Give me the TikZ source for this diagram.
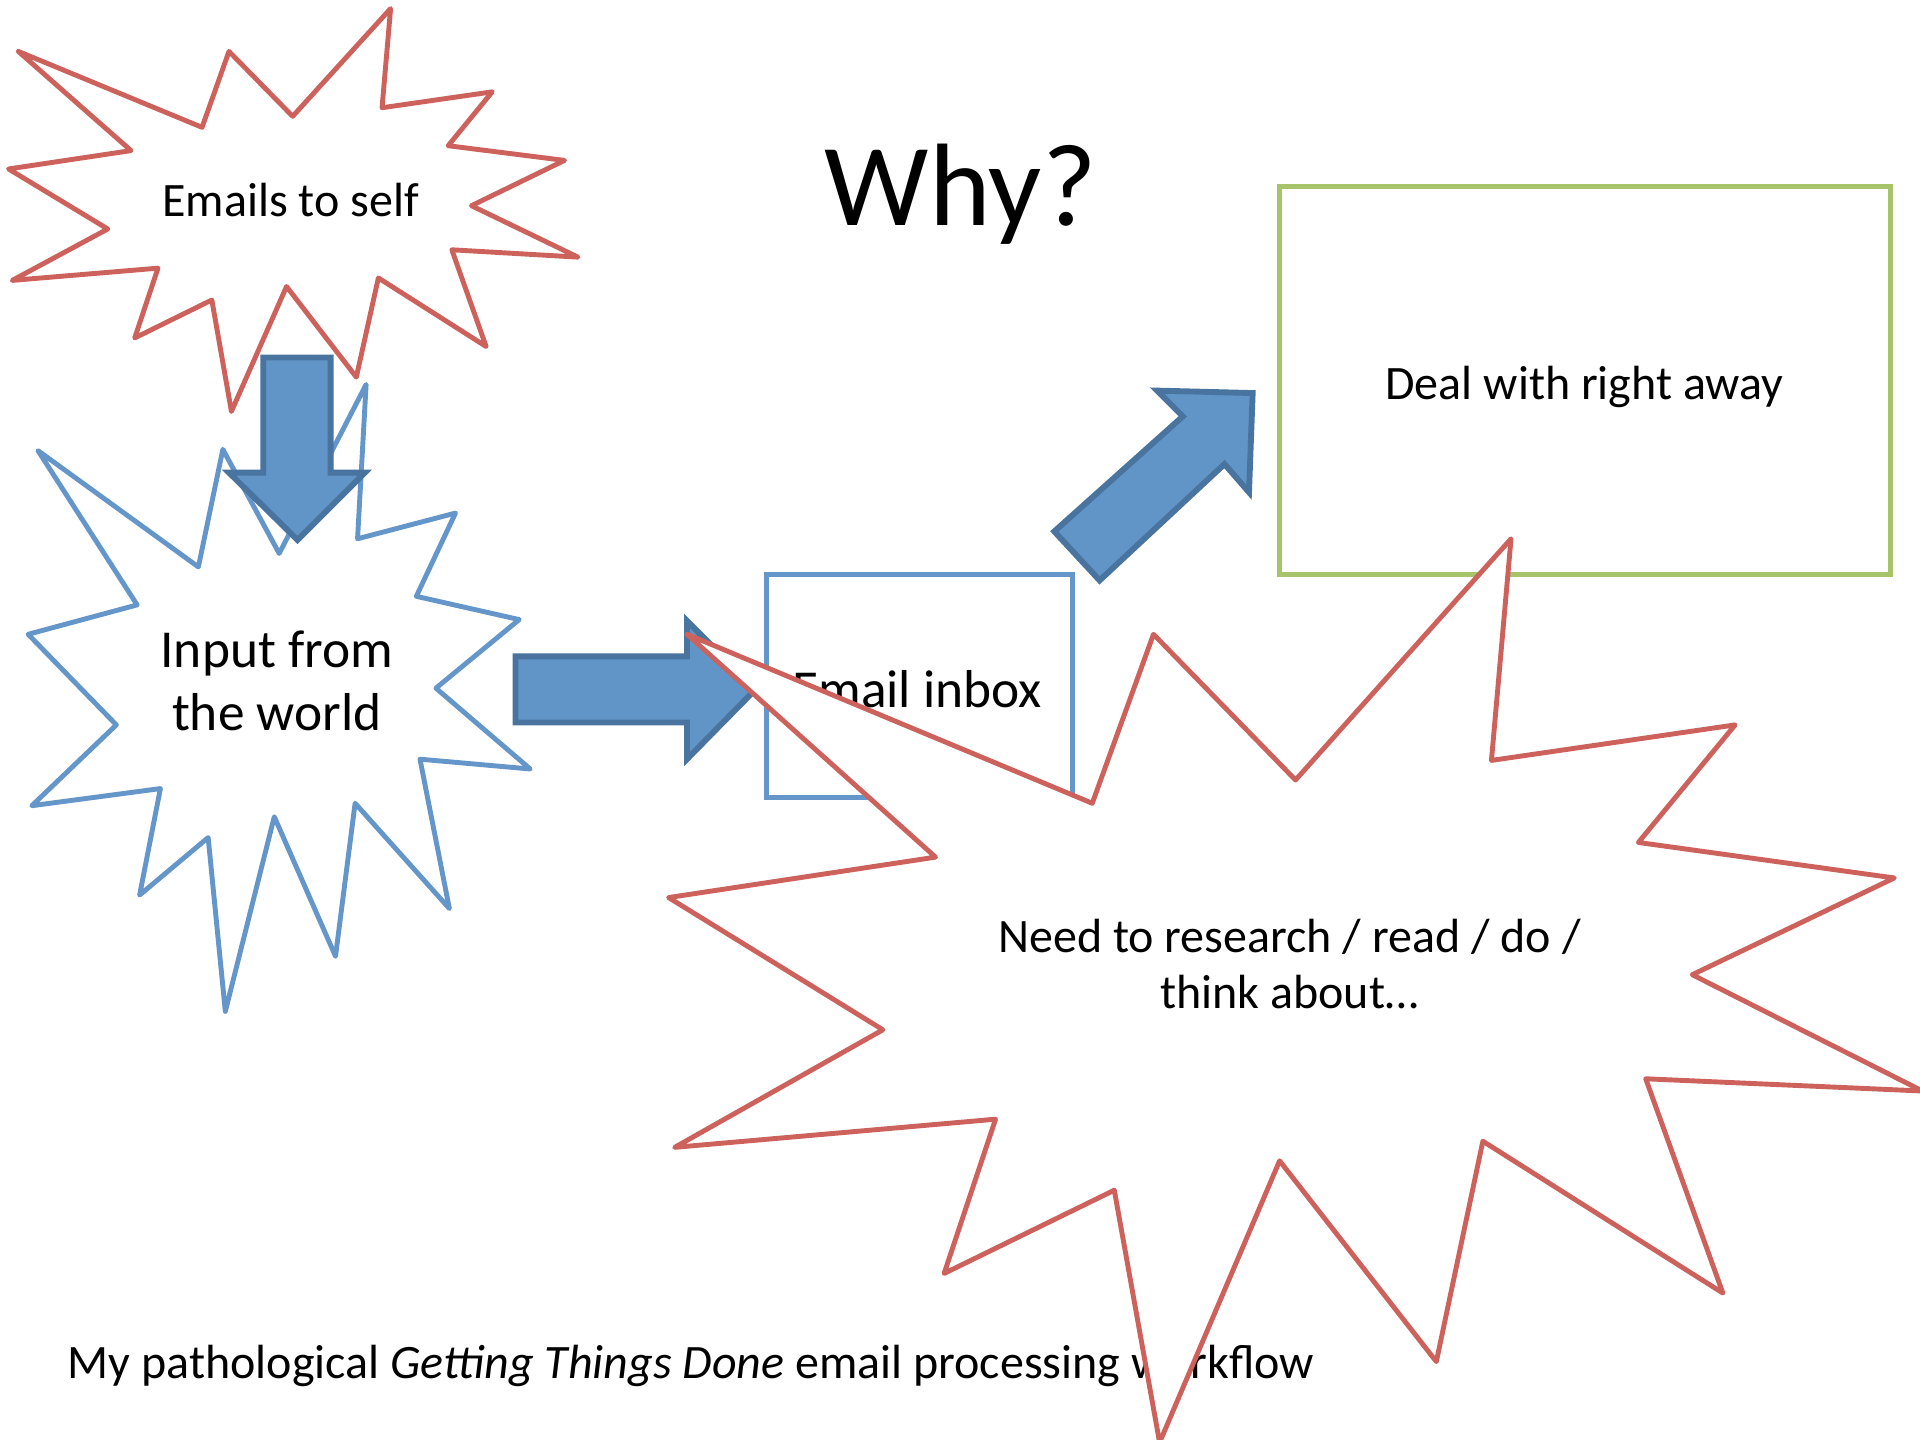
\documentclass[tikz,border=0pt]{standalone}
\usepackage{fontspec}
\setmainfont{Carlito}

\definecolor{burstred}{HTML}{CD625D}
\definecolor{burstblue}{HTML}{6496CA}
\definecolor{boxgreen}{HTML}{A7C46A}
\definecolor{arrowfill}{HTML}{6195C8}
\definecolor{arrowedge}{HTML}{48749F}

\begin{document}
\begin{tikzpicture}[x=0.5pt, y=-0.5pt,
  redburst/.style={draw=burstred, fill=white, line width=2pt, line join=round},
  blueburst/.style={draw=burstblue, fill=white, line width=2pt, line join=round},
  blockarrow/.style={draw=arrowedge, fill=arrowfill, line width=2.4pt, line join=miter},
  inboxbox/.style={draw=burstblue, fill=white, line width=2pt, minimum width=125pt, minimum height=91pt, inner sep=0pt},
  dealbox/.style={draw=boxgreen, fill=white, line width=2pt, minimum width=249.5pt, minimum height=158.5pt, inner sep=0pt},
  label/.style={inner sep=0pt, text=black, align=center}
]
\useasboundingbox (0,0) rectangle (1568,1176);
\clip (0,0) rectangle (1568,1176);

% heading and caption
\node[label, anchor=base, font=\fontsize{47.9}{57}\selectfont] (title) at (784.5,184) {Why?};
\node[label, anchor=base west, font=\fontsize{19.6}{23.5}\selectfont] (caption) at (55,1126)
  {My pathological \textit{Getting Things Done} email processing workflow};

% burst: emails to self
\draw[redburst] (15,42) -- (107,123) -- (7,138) -- (88,187) -- (10,229) -- (129,219)
  -- (110,276) -- (173,245) -- (189,336) -- (234,234) -- (291,308) -- (309,227)
  -- (397,283) -- (369,204) -- (472,210) -- (385,168) -- (461,131) -- (366,119)
  -- (402,75) -- (312,88) -- (319,7) -- (239,95) -- (187,42) -- (165,104) -- cycle;
\node[label, anchor=base, font=\fontsize{19.6}{23.5}\selectfont] (self) at (237.5,177) {Emails to self};

% burst: input from the world
\draw[blueburst] (31,368) -- (162,463) -- (182,367) -- (228,452) -- (299,314) -- (292,440)
  -- (372,419) -- (340,487) -- (424,506) -- (356,562) -- (433,628) -- (343,620)
  -- (367,742) -- (290,656) -- (274,781) -- (224,667) -- (184,826) -- (170,684)
  -- (114,731) -- (131,644) -- (26,658) -- (95,592) -- (23,518) -- (112,494) -- cycle;
\node[label, font=\fontsize{21.8}{25.5}\selectfont] (world) at (226,556) {Input from\\the world};

% block arrow: emails to self -> input from the world
\draw[blockarrow] (215,292) -- (270,292) -- (270,386) -- (298,386) -- (243,441)
  -- (187,386) -- (215,386) -- cycle;

% block arrow: input from the world -> email inbox
\draw[blockarrow] (421,536) -- (561,536) -- (561,507) -- (617,563) -- (561,620)
  -- (561,590) -- (421,590) -- cycle;

% email inbox
\node[inboxbox] (inbox) at (751,560) {};
\node[label, anchor=base, font=\fontsize{21.8}{26}\selectfont] (inboxtext) at (749,578) {Email inbox};

% deal with right away
\node[dealbox] (deal) at (1294.5,310.5) {};
\node[label, anchor=base, font=\fontsize{19.6}{23.5}\selectfont] (dealtext) at (1294,326) {Deal with right away};

% block arrow: email inbox -> deal with right away
\draw[blockarrow] (945,319) -- (1023,321) -- (1020,402) -- (1000,379) -- (898,474)
  -- (861,434) -- (966,340) -- cycle;

% burst: need to research
\draw[redburst] (561,518) -- (892,656) -- (942,518) -- (1058,637) -- (1234,440)
  -- (1218,621) -- (1417,592) -- (1338,688) -- (1547,717) -- (1382,796) -- (1570,891)
  -- (1344,881) -- (1407,1056) -- (1211,932) -- (1173,1112) -- (1045,948)
  -- (947,1178) -- (910,972) -- (771,1040) -- (813,914) -- (551,937) -- (721,841)
  -- (546,733) -- (764,700) -- cycle;
\node[label, font=\fontsize{19.6}{22.8}\selectfont] (research) at (1053,787)
  {Need to research / read / do /\\think about\ldots};
\end{tikzpicture}
\end{document}
